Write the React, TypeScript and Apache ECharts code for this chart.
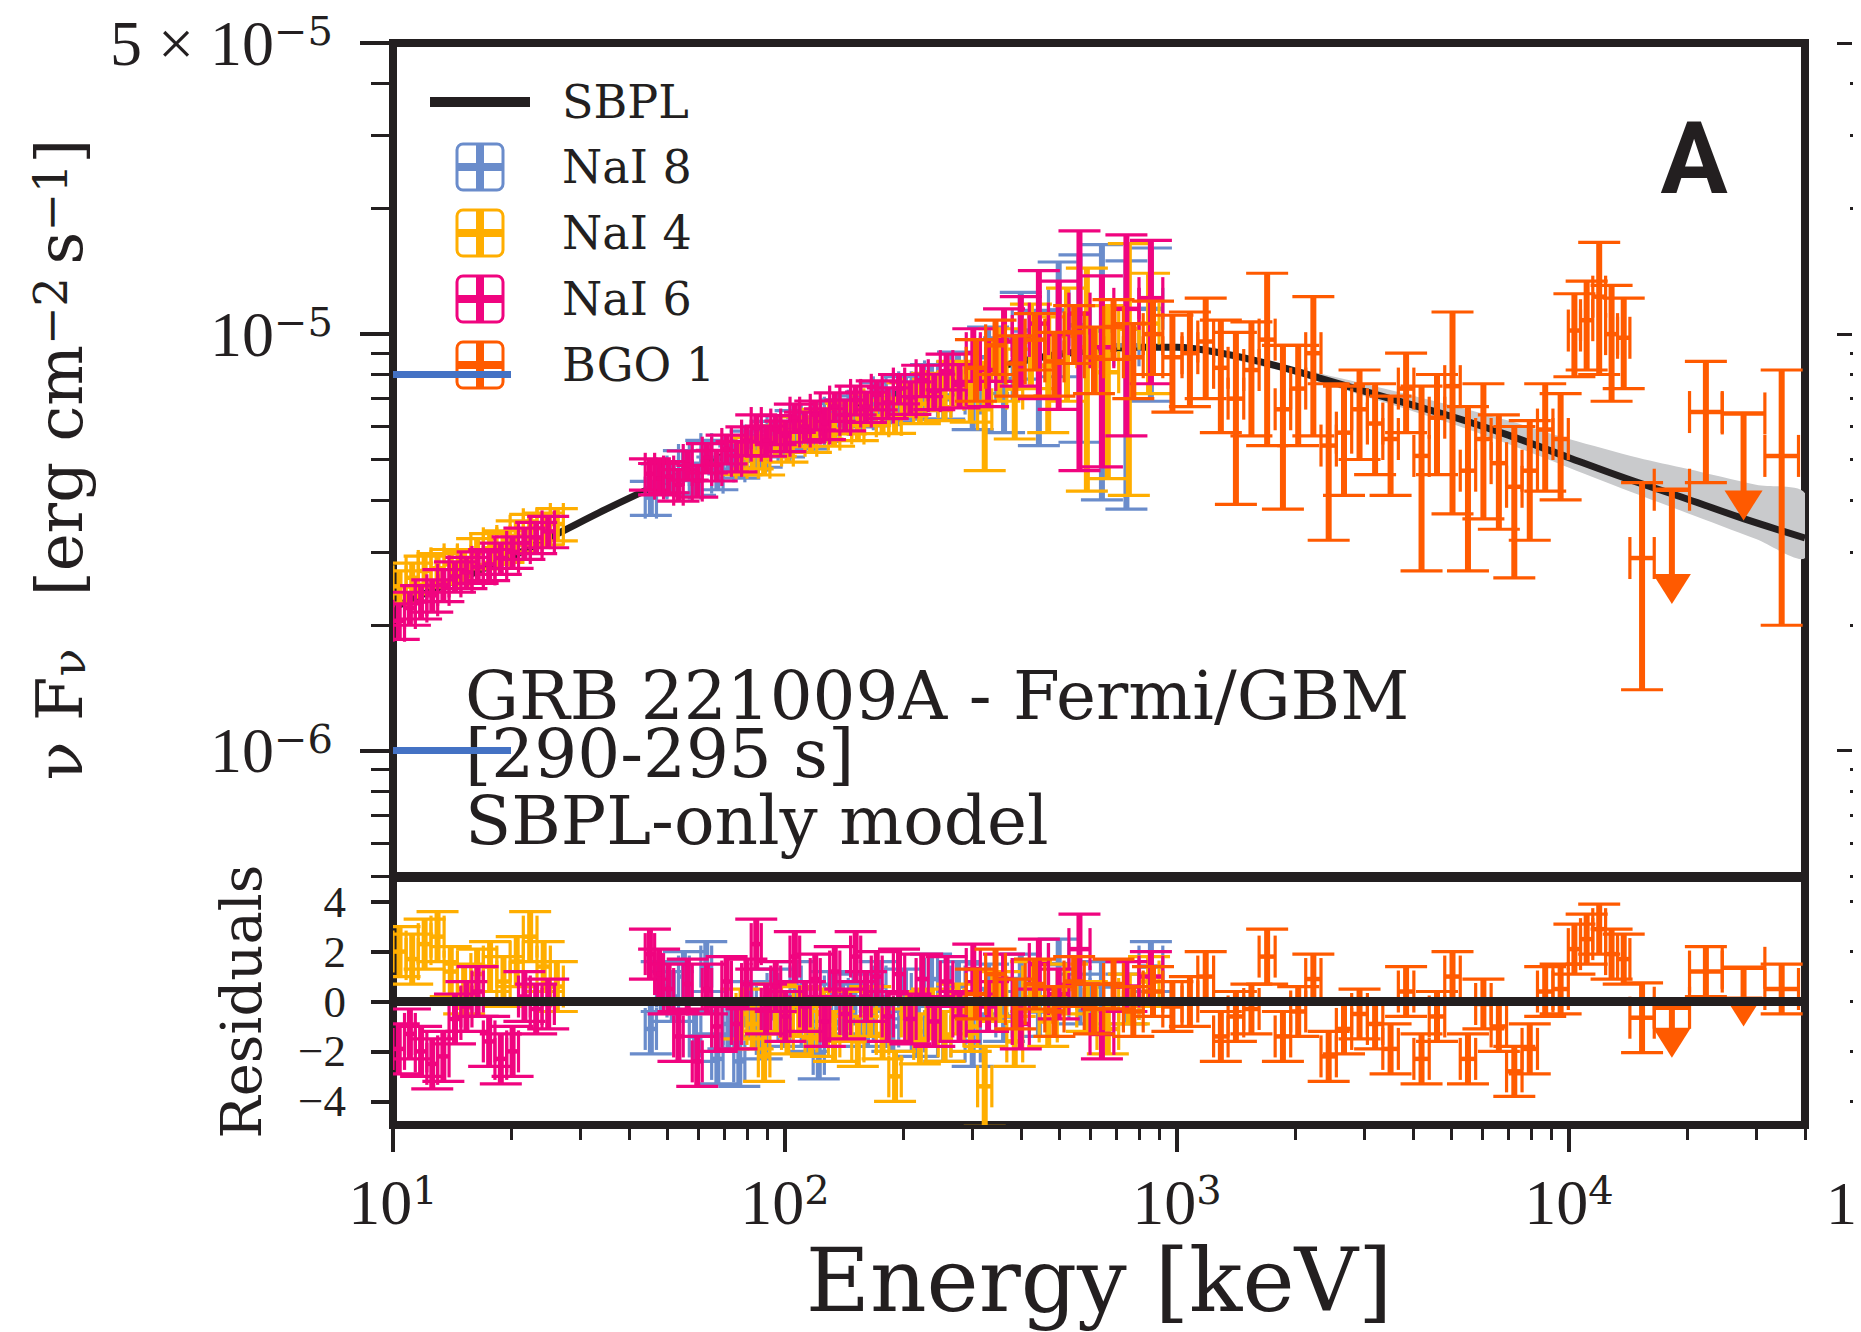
import React, { useEffect, useRef } from 'react';
import * as echarts from 'echarts';

// ---------- style constants ----------
const INK = '#231F20';
const C_NAI8 = '#6A8CCB';
const C_NAI4 = '#FFAE00';
const C_NAI6 = '#F0047F';
const C_BGO1 = '#FF5A00';
const C_BAND = '#C9CACC';
const C_ARTIFACT = '#4472C4';
const SERIF = "'DejaVu Serif', serif";
const TIMES = "'Liberation Serif', 'DejaVu Serif', serif";
const FLUX_UNIT = 1e-6; // flux values below are in units of 1e-6 erg cm^-2 s^-1

// ---------- axes / ticks ----------
const xMajorTicks = [10, 100, 1000, 10000];
const xTickExponents = ['1', '2', '3', '4'];
const xMinorTicks = [20, 30, 40, 50, 60, 70, 80, 90, 200, 300, 400, 500, 600, 700, 800, 900,
  2000, 3000, 4000, 5000, 6000, 7000, 8000, 9000, 20000, 30000, 40000];
const yMajorTicks = [1e-6, 1e-5, 5e-5];
const yLabelMantissa = ['10', '10', '5 \u00d7 10'];
const yLabelExponent = ['\u22126', '\u22125', '\u22125'];
const yMinorTicks = [5e-7, 6e-7, 7e-7, 8e-7, 9e-7, 2e-6, 3e-6, 4e-6, 5e-6, 6e-6, 7e-6, 8e-6, 9e-6, 2e-5, 3e-5, 4e-5];
const residTicks = [-4, -2, 0, 2, 4];
const residTickLabels = ['\u22124', '\u22122', '0', '2', '4'];
const residLabelsA = [-4, 0, 4];
const residLabelsB = [-2, 2];

// ---------- SBPL model ----------
const modelE = [10, 12, 15, 20, 26, 35, 45, 60, 80, 100, 130, 170, 220, 300, 400, 500, 650, 800, 1000,
  1300, 1700, 2200, 3000, 4000, 5000, 7000, 10000, 14000, 20000, 28000, 40000];
const modelF = [2.20, 2.38, 2.60, 2.92, 3.30, 3.80, 4.25, 4.80, 5.38, 5.80, 6.35, 6.92, 7.45, 8.05, 8.60, 8.95, 9.20, 9.30, 9.30,
  9.00, 8.50, 7.95, 7.30, 6.75, 6.35, 5.72, 5.05, 4.50, 4.02, 3.60, 3.24];

// ---------- model uncertainty band ----------
const bandE = [1100, 1500, 2000, 3000, 5000, 7000, 10000, 15000, 20000, 30000, 40000];
const bandHi = [9.24, 8.85, 8.30, 7.60, 6.75, 6.20, 5.60, 5.05, 4.75, 4.35, 4.15];
const bandLo = [9.16, 8.55, 8.00, 7.10, 6.10, 5.45, 4.78, 4.12, 3.72, 3.22, 2.90];

// ---------- data: [E_lo, E_hi, flux, flux_err, residual, residual_err] ----------
const nai8 = [
  [44, 47, 4.05, 0.38, -1.1, 1], [47, 50, 4.50, 0.38, 0.6, 1], [50, 53.5, 4.55, 0.39, 0.2, 1],
  [53.5, 57, 4.85, 0.40, 1.0, 1], [57, 61, 4.50, 0.40, -1.4, 1], [61, 65, 5.15, 0.41, 1.4, 1],
  [65, 69.5, 4.65, 0.42, -2.3, 1], [69.5, 74, 5.05, 0.43, -0.9, 1], [74, 79, 4.95, 0.44, -2.4, 1],
  [79, 84.5, 5.40, 0.45, -0.2, 1], [84.5, 90, 5.25, 0.46, -1.3, 1], [90, 96, 5.70, 0.47, 0.3, 1],
  [96, 103, 5.55, 0.48, -0.8, 1], [103, 110, 6.05, 0.50, 0.6, 1], [110, 118, 5.80, 0.50, -1.0, 1],
  [118, 126, 6.05, 0.52, -2.1, 1], [126, 135, 6.30, 0.52, 0.2, 1], [135, 145, 6.40, 0.55, -0.3, 1],
  [145, 156, 6.55, 0.56, 0.1, 1], [156, 168, 6.60, 0.58, -0.8, 1], [168, 181, 7.05, 0.60, 0.6, 1],
  [181, 195, 6.75, 0.62, -1.0, 1], [195, 210, 7.25, 0.65, 0.3, 1], [210, 227, 6.95, 0.70, -1.2, 1],
  [227, 245, 7.70, 0.75, 0.9, 1], [245, 265, 7.10, 0.85, -1.4, 1], [265, 288, 8.10, 0.95, 0.6, 1],
  [288, 315, 7.20, 1.30, -1.6, 1], [315, 345, 8.80, 1.60, 0.5, 1], [345, 380, 7.80, 2.00, -0.6, 1],
  [380, 420, 10.2, 2.40, 0.9, 1], [420, 470, 8.40, 3.00, -0.4, 1], [470, 530, 11.4, 3.50, 1.5, 1],
  [530, 600, 10.5, 5.00, 0.1, 1], [600, 690, 10.2, 6.20, 0.6, 1], [690, 800, 9.40, 5.60, 0.1, 1],
  [800, 920, 11.5, 4.60, 1.4, 1],
];

const nai4 = [
  [10.0, 10.8, 2.48, 0.22, 2.0, 1], [10.8, 11.6, 2.60, 0.22, 1.7, 1], [11.6, 12.5, 2.70, 0.23, 2.3, 1],
  [12.5, 13.5, 2.74, 0.23, 2.6, 1], [13.5, 14.6, 2.80, 0.24, 1.2, 1], [14.6, 15.8, 2.78, 0.24, 0.5, 1],
  [15.8, 17.0, 2.98, 0.25, 1.1, 1], [17.0, 18.4, 3.06, 0.26, 1.4, 1], [18.4, 19.9, 3.10, 0.27, 0.8, 1],
  [19.9, 21.5, 3.28, 0.28, 1.6, 1], [21.5, 23.3, 3.40, 0.29, 2.6, 1], [23.3, 25.2, 3.42, 0.30, 1.4, 1],
  [25.2, 27.2, 3.50, 0.31, 0.6, 1],
  [75, 80, 5.05, 0.45, -0.5, 1], [80, 85.5, 5.20, 0.45, -0.9, 1], [85.5, 91.5, 5.05, 0.46, -2.2, 1],
  [91.5, 98, 5.55, 0.46, -0.3, 1], [98, 105, 5.40, 0.47, -1.1, 1], [105, 112.5, 5.85, 0.48, -0.4, 1],
  [112.5, 120.5, 5.70, 0.50, -1.2, 1], [120.5, 129, 6.10, 0.50, -0.5, 1], [129, 138, 5.90, 0.52, -1.4, 1],
  [138, 148, 6.30, 0.54, -0.6, 1], [148, 159, 6.10, 0.55, -1.6, 1], [159, 171, 6.60, 0.57, -0.4, 1],
  [171, 184, 6.35, 0.58, -1.3, 1], [184, 198, 6.40, 0.62, -3.0, 1], [198, 213, 7.00, 0.65, -0.6, 1],
  [213, 229, 6.80, 0.70, -1.5, 1], [229, 246, 7.30, 0.75, -0.5, 1], [246, 265, 7.05, 0.85, -1.4, 1],
  [265, 286, 7.65, 0.95, -0.3, 1], [286, 310, 7.35, 1.20, -1.0, 1], [310, 337, 6.60, 1.90, -3.4, 1.6],
  [337, 368, 8.60, 1.70, 0.2, 1], [368, 404, 7.40, 1.80, -1.6, 1], [404, 445, 9.60, 2.20, 0.6, 1],
  [445, 495, 8.40, 2.60, -0.8, 1], [495, 555, 9.90, 3.00, 0.5, 1], [555, 625, 9.30, 5.10, -0.2, 1],
  [625, 710, 8.10, 3.60, -1.1, 1], [710, 800, 10.3, 6.20, 0.1, 1], [800, 900, 10.6, 3.40, 0.8, 1],
];

const nai6 = [
  [10.0, 10.7, 2.05, 0.20, -1.9, 1], [10.7, 11.4, 2.20, 0.20, -1.3, 1], [11.4, 12.2, 2.28, 0.21, -2.0, 1],
  [12.2, 13.0, 2.36, 0.21, -2.5, 1], [13.0, 13.9, 2.50, 0.22, -2.2, 1], [13.9, 14.9, 2.62, 0.22, -0.7, 1],
  [14.9, 15.9, 2.68, 0.23, -0.2, 1], [15.9, 17.0, 2.76, 0.24, 0.4, 1], [17.0, 18.2, 2.80, 0.24, -1.6, 1],
  [18.2, 19.5, 2.90, 0.25, -2.3, 1], [19.5, 20.9, 3.00, 0.26, -2.0, 1], [20.9, 22.4, 3.15, 0.27, 0.2, 1],
  [22.4, 24.0, 3.25, 0.28, -0.3, 1], [24.0, 25.8, 3.36, 0.29, -0.1, 1],
  [44, 46.5, 4.62, 0.40, 1.9, 1], [46.5, 49, 4.50, 0.39, 1.1, 1], [49, 52, 4.55, 0.39, 0.5, 1],
  [52, 55, 4.35, 0.38, -1.4, 1], [55, 58, 4.85, 0.39, 0.7, 1], [58, 61.5, 4.45, 0.39, -2.4, 1],
  [61.5, 65, 5.05, 0.41, 0.5, 1], [65, 69, 4.85, 0.41, -1.0, 1], [69, 73, 5.30, 0.42, 0.8, 1],
  [73, 77.5, 5.10, 0.43, -0.9, 1], [77.5, 82, 5.55, 0.44, 0.7, 1], [82, 87, 5.95, 0.45, 2.3, 1],
  [87, 92, 5.55, 0.46, -0.3, 1], [92, 97.5, 5.90, 0.47, 0.6, 1], [97.5, 103, 5.70, 0.48, -0.6, 1],
  [103, 109, 6.30, 0.49, 1.8, 1], [109, 116, 6.00, 0.50, -0.2, 1], [116, 123, 6.40, 0.51, 0.9, 1],
  [123, 130, 6.10, 0.52, -0.8, 1], [130, 138, 6.70, 0.53, 1.2, 1], [138, 147, 6.40, 0.54, -0.5, 1],
  [147, 156, 6.95, 0.55, 1.8, 1], [156, 166, 6.70, 0.56, 0.2, 1], [166, 177, 7.15, 0.57, 1.0, 1],
  [177, 189, 6.85, 0.58, -0.6, 1], [189, 202, 7.40, 0.60, 1.1, 1], [202, 216, 7.05, 0.63, -0.7, 1],
  [216, 232, 7.75, 0.67, 0.9, 1], [232, 249, 7.30, 0.71, -0.8, 1], [249, 268, 8.15, 0.80, 0.8, 1],
  [268, 290, 7.55, 0.90, -0.6, 1], [290, 315, 9.00, 1.30, 1.3, 1], [315, 345, 8.20, 1.50, -0.2, 1],
  [345, 380, 9.60, 1.90, 0.9, 1], [380, 420, 9.90, 2.40, -0.9, 1], [420, 470, 10.6, 3.60, 1.5, 1],
  [470, 530, 10.0, 3.40, 0.3, 1], [530, 600, 11.2, 6.50, 2.1, 1.4], [600, 690, 9.30, 4.50, -1.3, 1],
  [690, 800, 11.5, 5.80, 0.6, 1], [800, 920, 12.2, 4.60, 1.0, 1],
];

const bgo1 = [
  [290, 325, 8.3, 1.4, 0.3, 1], [325, 365, 9.4, 1.4, 1.1, 1], [365, 410, 8.5, 1.4, -0.1, 1],
  [410, 460, 9.7, 1.5, 0.7, 1], [460, 515, 8.6, 1.5, -0.4, 1], [515, 580, 10.1, 1.6, 0.8, 1],
  [580, 650, 8.8, 1.6, -0.3, 1], [650, 730, 10.4, 1.7, 0.7, 1], [730, 820, 8.8, 1.8, -0.4, 1],
  [820, 920, 10.0, 2.0, 0.4, 1], [920, 1030, 8.8, 2.3, -0.2, 1], [1030, 1130, 9.0, 2.3, 0.0, 1],
  [1130, 1240, 9.6, 2.6, 1.0, 1], [1240, 1350, 8.3, 2.5, -1.4, 1], [1350, 1480, 7.0, 3.1, -0.6, 1],
  [1480, 1620, 8.2, 2.5, -0.3, 1], [1620, 1780, 9.7, 4.3, 1.8, 1.1], [1780, 1950, 6.6, 2.8, -1.4, 1],
  [1950, 2130, 7.4, 2.0, -0.4, 1], [2130, 2330, 9.0, 3.3, 0.9, 1], [2330, 2550, 5.4, 2.2, -2.2, 1],
  [2550, 2790, 5.8, 1.7, -1.1, 1], [2790, 3060, 6.6, 1.6, -0.5, 1], [3060, 3350, 6.1, 1.5, -0.9, 1],
  [3350, 3670, 5.6, 1.5, -1.9, 1], [3670, 4020, 7.4, 1.6, 0.4, 1], [4020, 4400, 5.1, 2.4, -2.3, 1],
  [4400, 4820, 6.3, 1.7, -0.6, 1], [4820, 5280, 7.5, 3.8, 1.0, 1], [5280, 5780, 4.7, 2.0, -2.3, 1],
  [5780, 6330, 5.6, 2.0, -0.1, 1], [6330, 6930, 4.9, 1.5, -1.0, 1], [6930, 7590, 4.3, 1.7, -2.8, 1],
  [7590, 8310, 4.7, 1.5, -1.9, 1], [8310, 9100, 5.9, 1.7, 0.4, 1], [9100, 9960, 5.6, 1.6, 0.5, 1],
  [9960, 10700, 10.2, 2.3, 2.1, 1], [10700, 11500, 10.8, 2.6, 2.5, 1], [11500, 12400, 12.3, 4.3, 2.9, 1],
  [12400, 13300, 10.0, 3.1, 1.9, 1], [13300, 14300, 9.8, 2.4, 1.7, 1], [14300, 16500, 2.9, 1.5, -0.65, 1.4],
  [20300, 24600, 6.5, 2.1, 1.2, 1], [31600, 38500, 5.1, 3.1, 0.5, 1],
];
// upper limits: [E_lo, E_hi, flux, arrow-tip flux, residual, arrow-tip residual]
const bgo1UpperLimits = [
  [16500, 20300, 4.23, 2.25, -0.25, -2.25],
  [24600, 31600, 6.45, 3.57, 1.35, -1.0],
];

// stray blue strokes present in the figure
const artifactE = [10, 20];
const artifactF = [8, 1];

const detectors = [
  { name: 'NaI 8', color: C_NAI8, rows: nai8 },
  { name: 'NaI 4', color: C_NAI4, rows: nai4 },
  { name: 'NaI 6', color: C_NAI6, rows: nai6 },
  { name: 'BGO 1', color: C_BGO1, rows: bgo1 },
];

// ---------- drawing helpers ----------
const CAP = 21;
const V_W = 6;
const H_W = 4.5;
const CAP_W = 3.2;
const ARROW_H = 30;
const ARROW_HALF = 19;

const seg = (x1: number, y1: number, x2: number, y2: number, w: number, color: string) => ({
  type: 'line', shape: { x1, y1, x2, y2 }, style: { stroke: color, lineWidth: w, lineCap: 'butt' },
});

function errorBarRenderer(color: string, logY: boolean) {
  return (params: any, api: any) => {
    const e0 = api.value(0), e1 = api.value(1), v = api.value(2), err = api.value(3);
    const ec = Math.sqrt(e0 * e1);
    const lo = logY ? Math.max(v - err, v * 1e-3) : v - err;
    const hi = v + err;
    const pL = api.coord([e0, v]);
    const pR = api.coord([e1, v]);
    const pT = api.coord([ec, hi]);
    const pB = api.coord([ec, lo]);
    return {
      type: 'group',
      children: [
        seg(pT[0], pT[1], pB[0], pB[1], V_W, color),
        seg(pL[0], pL[1], pR[0], pR[1], H_W, color),
        seg(pT[0] - CAP, pT[1], pT[0] + CAP, pT[1], CAP_W, color),
        seg(pB[0] - CAP, pB[1], pB[0] + CAP, pB[1], CAP_W, color),
        seg(pL[0], pL[1] - CAP, pL[0], pL[1] + CAP, CAP_W, color),
        seg(pR[0], pR[1] - CAP, pR[0], pR[1] + CAP, CAP_W, color),
      ],
    };
  };
}

function upperLimitRenderer(color: string) {
  return (params: any, api: any) => {
    const e0 = api.value(0), e1 = api.value(1), v = api.value(2), tip = api.value(3);
    const ec = Math.sqrt(e0 * e1);
    const pL = api.coord([e0, v]);
    const pR = api.coord([e1, v]);
    const pV = api.coord([ec, v]);
    const pTip = api.coord([ec, tip]);
    return {
      type: 'group',
      children: [
        seg(pL[0], pL[1], pR[0], pR[1], H_W, color),
        seg(pL[0], pL[1] - CAP, pL[0], pL[1] + CAP, CAP_W, color),
        seg(pR[0], pR[1] - CAP, pR[0], pR[1] + CAP, CAP_W, color),
        seg(pV[0], pV[1], pTip[0], pTip[1] - ARROW_H + 2, V_W, color),
        {
          type: 'polygon',
          shape: { points: [[pTip[0] - ARROW_HALF, pTip[1] - ARROW_H], [pTip[0] + ARROW_HALF, pTip[1] - ARROW_H], [pTip[0], pTip[1]]] },
          style: { fill: color },
        },
      ],
    };
  };
}

const residFormatter = (v: number) => {
  const i = residTicks.indexOf(Math.round(v));
  return i < 0 ? '' : residTickLabels[i];
};

function buildOption() {
  const series: any[] = [];

  // uncertainty band
  series.push({
    type: 'custom', xAxisIndex: 0, yAxisIndex: 0, silent: true, z: 1, clip: true,
    data: [[bandE[0], bandHi[0] * FLUX_UNIT]],
    renderItem: (params: any, api: any) => {
      const upper = bandE.map((e, i) => api.coord([e, bandHi[i] * FLUX_UNIT]));
      const lower = bandE.map((e, i) => api.coord([e, bandLo[i] * FLUX_UNIT])).reverse();
      return { type: 'polygon', shape: { points: upper.concat(lower), smooth: 0.3 }, style: { fill: C_BAND } };
    },
  });

  // model
  series.push({
    type: 'line', xAxisIndex: 0, yAxisIndex: 0, silent: true, z: 2, smooth: 0.35, showSymbol: false,
    data: modelE.map((e, i) => [e, modelF[i] * FLUX_UNIT]),
    lineStyle: { color: INK, width: 7 },
  });

  // data error bars
  detectors.forEach((d) => {
    series.push({
      type: 'custom', name: d.name, xAxisIndex: 0, yAxisIndex: 0, silent: true, z: 3, clip: true,
      encode: { x: [0, 1], y: [2] },
      data: d.rows.map((r) => [r[0], r[1], r[2] * FLUX_UNIT, r[3] * FLUX_UNIT]),
      renderItem: errorBarRenderer(d.color, true),
    });
  });
  series.push({
    type: 'custom', xAxisIndex: 0, yAxisIndex: 0, silent: true, z: 3, clip: true,
    encode: { x: [0, 1], y: [2] },
    data: bgo1UpperLimits.map((r) => [r[0], r[1], r[2] * FLUX_UNIT, r[3] * FLUX_UNIT]),
    renderItem: upperLimitRenderer(C_BGO1),
  });

  // residuals
  detectors.forEach((d) => {
    series.push({
      type: 'custom', xAxisIndex: 1, yAxisIndex: 4, silent: true, z: 3, clip: true,
      encode: { x: [0, 1], y: [2] },
      data: d.rows.map((r) => [r[0], r[1], r[4], r[5]]),
      renderItem: errorBarRenderer(d.color, false),
    });
  });
  series.push({
    type: 'custom', xAxisIndex: 1, yAxisIndex: 4, silent: true, z: 3, clip: true,
    encode: { x: [0, 1], y: [2] },
    data: bgo1UpperLimits.map((r) => [r[0], r[1], r[4], r[5]]),
    renderItem: upperLimitRenderer(C_BGO1),
  });

  // zero line in the residual panel
  series.push({
    type: 'line', xAxisIndex: 1, yAxisIndex: 4, silent: true, z: 6, showSymbol: false,
    data: [[xMajorTicks[0], 0], [40000, 0]],
    lineStyle: { color: INK, width: 9 },
  });

  // stray blue strokes
  artifactF.forEach((f) => {
    series.push({
      type: 'line', xAxisIndex: 0, yAxisIndex: 0, silent: true, z: 20, showSymbol: false,
      data: artifactE.map((e) => [e, f * FLUX_UNIT]),
      lineStyle: { color: C_ARTIFACT, width: 7, cap: 'butt' },
    });
  });

  const supRich = {
    b: { fontFamily: TIMES, fontSize: 64, lineHeight: 64, color: INK },
    s: { fontFamily: SERIF, fontSize: 40, lineHeight: 30, verticalAlign: 'top', color: INK },
  };

  const logY = { type: 'log', logBase: 10, min: 5e-7, max: 5e-5 };
  const logX = { type: 'log', logBase: 10, min: 10, max: 40000 };
  const resY = { type: 'value', min: -4.95, max: 4.95 };
  const noSplit = { show: false };
  const hiddenLine = { show: false, onZero: false };
  const residLabelStyle = { margin: 47, fontFamily: TIMES, fontSize: 45, lineHeight: 44, color: INK, formatter: residFormatter };

  // legend drawn as graphics
  const legendItems = detectors.map((d, i) => ({ ...d, y: 167 + i * 66 }));
  const graphic: any[] = [
    { type: 'line', shape: { x1: 430, y1: 102, x2: 530, y2: 102 }, style: { stroke: INK, lineWidth: 10 } },
    { type: 'text', x: 562, y: 102, style: { text: 'SBPL', fontFamily: SERIF, fontSize: 46, lineHeight: 50, fill: INK, verticalAlign: 'middle', textVerticalAlign: 'middle' } },
  ];
  legendItems.forEach((it) => {
    graphic.push({
      type: 'group',
      children: [
        { type: 'rect', shape: { x: 457, y: it.y - 23, width: 46, height: 46, r: 6 }, style: { fill: 'none', stroke: it.color, lineWidth: 3 } },
        { type: 'line', shape: { x1: 457, y1: it.y, x2: 503, y2: it.y }, style: { stroke: it.color, lineWidth: 8 } },
        { type: 'line', shape: { x1: 480, y1: it.y - 23, x2: 480, y2: it.y + 23 }, style: { stroke: it.color, lineWidth: 8 } },
      ],
    });
    graphic.push({ type: 'text', x: 562, y: it.y, style: { text: it.name, fontFamily: SERIF, fontSize: 46, lineHeight: 50, fill: INK, verticalAlign: 'middle', textVerticalAlign: 'middle' } });
  });
  const annotation = ['GRB 221009A - Fermi/GBM', '[290-295 s]', 'SBPL-only model'];
  const annotationY = [695, 753, 820];
  annotation.forEach((t, i) => {
    graphic.push({ type: 'text', x: 465, y: annotationY[i], style: { text: t, fontFamily: SERIF, fontSize: 67.5, lineHeight: 54, fill: INK, verticalAlign: 'middle', textVerticalAlign: 'middle' } });
  });
  graphic.push({ type: 'text', x: 1694, y: 158, style: { text: 'A', fontFamily: "'Liberation Sans Narrow', Roboto, sans-serif", fontWeight: 'bold', fontSize: 100, fill: INK, align: 'center', textAlign: 'center', verticalAlign: 'middle', textVerticalAlign: 'middle' } });
  graphic.push({ type: 'text', x: 1826, y: 1203, style: { text: '1', fontFamily: TIMES, fontSize: 62, fill: INK, verticalAlign: 'middle', textVerticalAlign: 'middle' } });

  const gridBase = { left: 393, width: 1412, show: true, borderColor: INK, borderWidth: 8, backgroundColor: 'transparent', containLabel: false, outerBoundsMode: 'none' };

  return {
    animation: false,
    backgroundColor: '#ffffff',
    textStyle: { fontFamily: SERIF, color: INK },
    grid: [
      { ...gridBase, top: 43, height: 833 },
      { ...gridBase, top: 878, height: 247 },
    ],
    xAxis: [
      { gridIndex: 0, ...logX, position: 'bottom', show: false, splitLine: noSplit, axisLine: hiddenLine },
      {
        gridIndex: 1, ...logX, position: 'bottom', splitLine: noSplit, axisLine: hiddenLine,
        axisTick: { show: true, customValues: xMajorTicks, length: 27, lineStyle: { color: INK, width: 4 } },
        axisLabel: {
          show: true, customValues: xMajorTicks, margin: 45, rich: supRich, showMinLabel: true, showMaxLabel: true,
          formatter: (v: number) => {
            const i = xMajorTicks.findIndex((t) => Math.abs(t - v) / t < 1e-6);
            return i < 0 ? '' : `{b|10}{s|${xTickExponents[i]}}`;
          },
        },
        name: 'Energy [keV]', nameLocation: 'middle', nameGap: 115, nameMoveOverlap: false,
        nameTextStyle: { fontFamily: SERIF, fontSize: 88, lineHeight: 80, color: INK },
      },
      {
        gridIndex: 1, ...logX, position: 'bottom', splitLine: noSplit, axisLine: hiddenLine, axisLabel: { show: false },
        axisTick: { show: true, customValues: xMinorTicks, length: 15, lineStyle: { color: INK, width: 3 } },
      },
    ],
    yAxis: [
      {
        gridIndex: 0, ...logY, position: 'left', splitLine: noSplit, axisLine: hiddenLine,
        axisTick: { show: true, customValues: yMajorTicks, length: 33, lineStyle: { color: INK, width: 4 } },
        axisLabel: {
          show: true, customValues: yMajorTicks, margin: 60, rich: supRich, showMinLabel: true, showMaxLabel: true,
          formatter: (v: number) => {
            const i = yMajorTicks.findIndex((t) => Math.abs(t - v) / t < 1e-6);
            return i < 0 ? '' : `{b|${yLabelMantissa[i]}}{s|${yLabelExponent[i]}}`;
          },
        },
        name: '{t|\u03bd F}{sub|\u03bd}{t|\u2002\u00a0[erg cm}{sup|\u22122}{t|\u2009s}{sup|\u22121}{t|]}',
        nameLocation: 'middle', nameGap: 301, nameMoveOverlap: false,
        nameTextStyle: {
          color: INK,
          rich: {
            t: { fontFamily: SERIF, fontSize: 64, lineHeight: 64, color: INK },
            sub: { fontFamily: SERIF, fontSize: 46, lineHeight: 46, padding: [30, 0, 0, 0], verticalAlign: 'bottom', color: INK },
            sup: { fontFamily: SERIF, fontSize: 46, lineHeight: 46, verticalAlign: 'top', color: INK },
          },
        },
      },
      {
        gridIndex: 0, ...logY, position: 'left', splitLine: noSplit, axisLine: hiddenLine, axisLabel: { show: false },
        axisTick: { show: true, customValues: yMinorTicks, length: 22, lineStyle: { color: INK, width: 3 } },
      },
      {
        gridIndex: 0, ...logY, position: 'right', offset: 32, splitLine: noSplit, axisLine: hiddenLine, axisLabel: { show: false },
        axisTick: { show: true, customValues: yMajorTicks, length: 15, lineStyle: { color: INK, width: 3 } },
      },
      {
        gridIndex: 0, ...logY, position: 'right', offset: 45, splitLine: noSplit, axisLine: hiddenLine, axisLabel: { show: false },
        axisTick: { show: true, customValues: yMinorTicks, length: 3, lineStyle: { color: INK, width: 3 } },
      },
      {
        // residual axis (carries the series): labels -4, 0, 4
        gridIndex: 1, ...resY, position: 'left', splitLine: noSplit, axisLine: hiddenLine,
        axisTick: { show: false },
        axisLabel: { show: true, customValues: residLabelsA, showMinLabel: true, showMaxLabel: true, ...residLabelStyle },
        name: 'Residuals', nameLocation: 'middle', nameGap: 124, nameMoveOverlap: false,
        nameTextStyle: { fontFamily: SERIF, fontSize: 56, color: INK },
      },
      {
        gridIndex: 1, ...resY, position: 'right', offset: 45, splitLine: noSplit,
        axisLine: hiddenLine, axisLabel: { show: false },
        axisTick: { show: true, customValues: residTicks, length: 3, lineStyle: { color: INK, width: 3 } },
      },
      {
        // residual labels -2, 2
        gridIndex: 1, ...resY, position: 'left', splitLine: noSplit, axisLine: hiddenLine,
        axisTick: { show: false },
        axisLabel: { show: true, customValues: residLabelsB, showMinLabel: true, showMaxLabel: true, ...residLabelStyle },
      },
      {
        // residual ticks
        gridIndex: 1, ...resY, position: 'left', splitLine: noSplit, axisLine: hiddenLine, axisLabel: { show: false },
        axisTick: { show: true, customValues: residTicks, length: 22, lineStyle: { color: INK, width: 4 } },
      },
    ],
    graphic,
    series,
  };
}

export default function App() {
  const ref = useRef<HTMLDivElement>(null);
  useEffect(() => {
    if (!ref.current) return;
    const chart = echarts.init(ref.current, undefined, { renderer: 'svg' });
    chart.setOption(buildOption() as any);
    return () => chart.dispose();
  }, []);
  return (
    <div
      ref={ref}
      style={{ position: 'absolute', left: 0, top: 0, width: 1861, height: 1332, background: '#ffffff' }}
    />
  );
}
